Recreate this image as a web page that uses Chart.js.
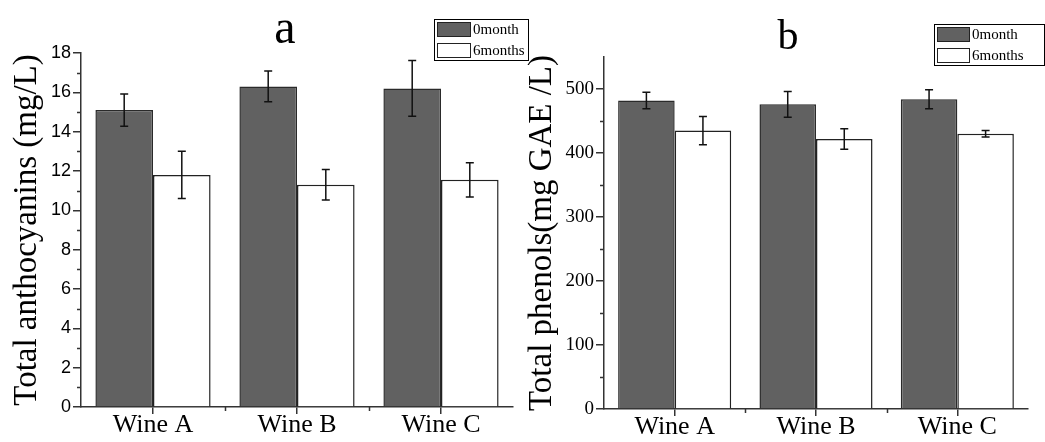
<!DOCTYPE html>
<html>
<head>
<meta charset="utf-8">
<script src="https://cdn.jsdelivr.net/npm/chart.js@4"></script>
<style>
  body { margin: 0; background: #fff; }
  .panel { position: absolute; top: 0; height: 442px; }
  #panelA { left: 0; width: 540px; }
  #panelB { left: 520px; width: 525px; }
</style>
</head>
<body>
<div class="panel" id="panelA"><canvas id="chartA" width="540" height="442"></canvas></div>
<div class="panel" id="panelB"><canvas id="chartB" width="525" height="442"></canvas></div>
<script>
const categories = ['Wine A', 'Wine B', 'Wine C'];
const seriesNames = ['0month', '6months'];

// panel a - anthocyanins (mg/L)
const antho0 = [15.1, 16.3, 16.2];
const antho0Err = [0.82, 0.78, 1.42];
const antho6 = [11.8, 11.3, 11.55];
const antho6Err = [1.2, 0.78, 0.87];

// panel b - phenols (mg GAE/L)
const phenol0 = [482, 476, 484];
const phenol0Err = [13, 20, 15];
const phenol6 = [435, 422, 430];
const phenol6Err = [22, 16, 5];

const darkFill = '#616161';
const axisColor = '#333';

// error bars, drawn through the y scale
const errorBars = {
  id: 'errorBars',
  afterDatasetsDraw(chart) {
    const ctx = chart.ctx;
    const y = chart.scales.y;
    ctx.save();
    ctx.strokeStyle = '#111';
    ctx.lineWidth = 1.5;
    chart.data.datasets.forEach((ds, d) => {
      const meta = chart.getDatasetMeta(d);
      meta.data.forEach((bar, i) => {
        const v = ds.data[i], e = ds.errors[i];
        const top = y.getPixelForValue(v + e);
        const bot = y.getPixelForValue(v - e);
        ctx.beginPath();
        ctx.moveTo(bar.x, top); ctx.lineTo(bar.x, bot);
        ctx.moveTo(bar.x - 4, top); ctx.lineTo(bar.x + 4, top);
        ctx.moveTo(bar.x - 4, bot); ctx.lineTo(bar.x + 4, bot);
        ctx.stroke();
      });
    });
    ctx.restore();
  }
};

// minor ticks on both axes, plus panel letter and boxed legend
const extras = {
  id: 'extras',
  afterDraw(chart, args, opts) {
    const ctx = chart.ctx;
    const x = chart.scales.x, y = chart.scales.y;
    ctx.save();
    ctx.strokeStyle = axisColor;
    ctx.lineWidth = 1.5;
    ctx.beginPath();
    for (let v = opts.minorStep; v < y.max; v += opts.majorStep) {
      const py = Math.round(y.getPixelForValue(v)) + 0.5;
      ctx.moveTo(y.right - 4, py); ctx.lineTo(y.right, py);
    }
    for (let i = 1; i < categories.length; i++) {
      const px = Math.round(x.getPixelForValue(i - 0.5)) + 0.5;
      ctx.moveTo(px, x.top); ctx.lineTo(px, x.top + 4);
    }
    ctx.stroke();

    // panel letter
    ctx.fillStyle = '#000';
    ctx.font = opts.letterSize + 'px "Liberation Serif"';
    ctx.textAlign = 'center';
    ctx.textBaseline = 'alphabetic';
    ctx.fillText(opts.letter, opts.letterX, opts.letterY);

    // legend box
    const L = opts.legend;
    ctx.lineWidth = 1;
    ctx.strokeStyle = '#000';
    ctx.strokeRect(L.x + 0.5, L.y + 0.5, L.w, L.h);
    ctx.font = L.size + 'px "Liberation Serif"';
    ctx.textAlign = 'left';
    ctx.textBaseline = 'middle';
    chart.data.datasets.forEach((ds, d) => {
      const sy = L.y + 3 + d * L.row;
      ctx.fillStyle = ds.backgroundColor;
      ctx.fillRect(L.x + 3, sy, L.sw, L.sh);
      ctx.strokeStyle = '#222';
      ctx.strokeRect(L.x + 3.5, sy + 0.5, L.sw, L.sh);
      ctx.fillStyle = '#000';
      ctx.fillText(ds.label, L.x + L.sw + 6, sy + L.sh / 2 + 1);
    });
    ctx.restore();
  }
};

function makeChart(id, d0, e0, d6, e6, cfg) {
  return new Chart(document.getElementById(id), {
    type: 'bar',
    data: {
      labels: categories,
      datasets: [{
        label: seriesNames[0],
        data: d0,
        errors: e0,
        backgroundColor: darkFill,
        borderColor: '#2a2a2a',
        borderWidth: 1.5,
        categoryPercentage: 0.8,
        barPercentage: 1.0
      }, {
        label: seriesNames[1],
        data: d6,
        errors: e6,
        backgroundColor: '#ffffff',
        borderColor: '#222',
        borderWidth: 1.5,
        categoryPercentage: 0.8,
        barPercentage: 1.0
      }]
    },
    options: {
      responsive: false,
      animation: false,
      layout: { padding: { top: cfg.top, right: cfg.right, left: 0, bottom: 0 } },
      plugins: {
        legend: { display: false },
        tooltip: { enabled: false },
        extras: cfg.extras
      },
      scales: {
        x: {
          grid: { drawOnChartArea: false, offset: false, tickLength: 7, color: axisColor, lineWidth: 1.5 },
          border: { color: axisColor, width: 1.5 },
          ticks: { color: '#000', padding: -4, font: { family: 'Liberation Serif', size: 26 } },
          afterFit(s) { s.height = cfg.xHeight; }
        },
        y: {
          min: 0,
          max: cfg.max,
          grid: { drawOnChartArea: false, tickLength: 8, color: axisColor, lineWidth: 1.5 },
          border: { color: axisColor, width: 1.5 },
          afterBuildTicks(s) { s.ticks = s.ticks.filter(t => t.value % cfg.step === 0); },
          ticks: { stepSize: cfg.step, color: '#000', padding: 2, font: cfg.tickFont },
          title: {
            display: true,
            text: cfg.title,
            color: '#000',
            padding: { top: cfg.titlePad, bottom: 0 },
            font: { family: 'Liberation Serif', size: 33 }
          },
          afterFit(s) { s.width = cfg.yWidth; }
        }
      }
    },
    plugins: [errorBars, extras]
  });
}

makeChart('chartA', antho0, antho0Err, antho6, antho6Err, {
  top: 53, right: 27, xHeight: 35, yWidth: 81, max: 18, step: 2,
  title: 'Total anthocyanins (mg/L)', titlePad: 8,
  tickFont: { family: 'Liberation Sans', size: 18 },
  extras: {
    minorStep: 1, majorStep: 2,
    letter: 'a', letterX: 285, letterY: 43, letterSize: 48,
    legend: { x: 434, y: 19, w: 94, h: 41, row: 21, sw: 33, sh: 14, size: 15 }
  }
});

makeChart('chartB', phenol0, phenol0Err, phenol6, phenol6Err, {
  top: 57, right: 17, xHeight: 33, yWidth: 84, max: 550, step: 100,
  title: 'Total phenols(mg GAE /L)', titlePad: 3,
  tickFont: { family: 'Liberation Serif', size: 19 },
  extras: {
    minorStep: 50, majorStep: 100,
    letter: 'b', letterX: 268, letterY: 49, letterSize: 42,
    legend: { x: 414, y: 24, w: 110, h: 41, row: 21, sw: 32, sh: 14, size: 15 }
  }
});
</script>
</body>
</html>
